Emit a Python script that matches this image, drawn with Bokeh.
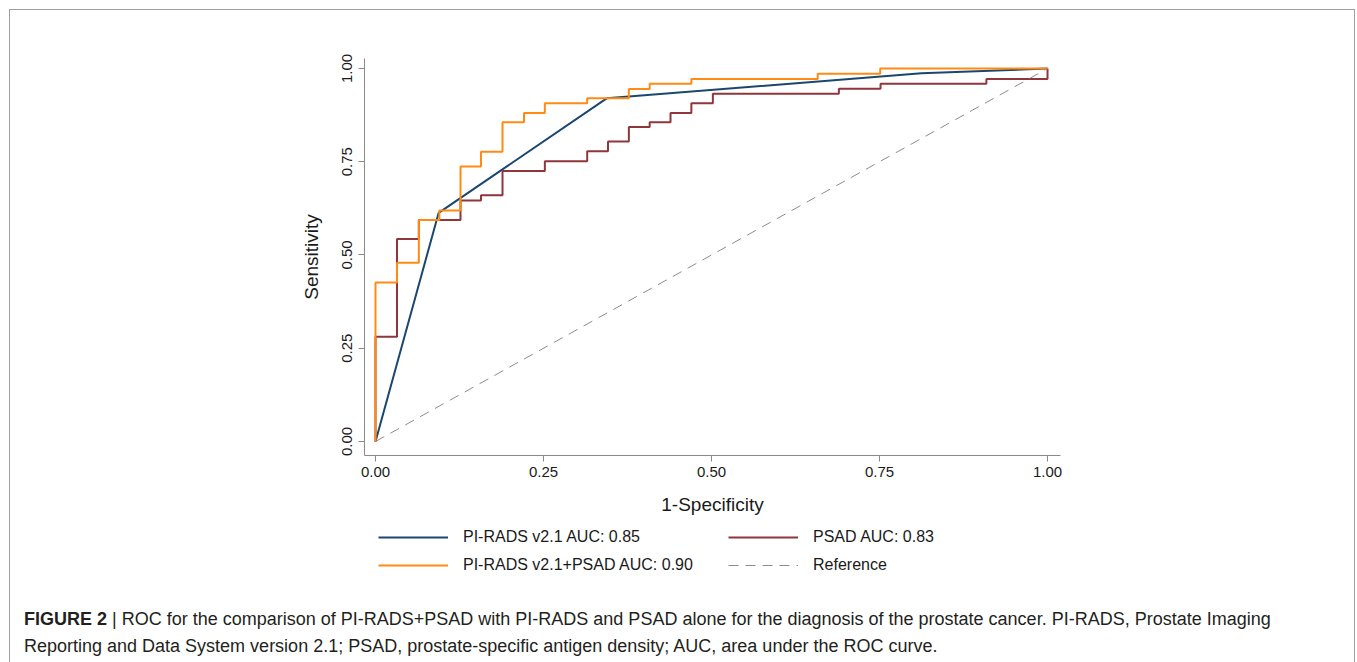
from bokeh.plotting import figure
from bokeh.models import Range1d, Legend, LegendItem, NumeralTickFormatter, FixedTicker, Div
from bokeh.layouts import column
from bokeh.embed import file_html
from bokeh.resources import INLINE

# ---------------- data ----------------
ticks = [0.0, 0.25, 0.50, 0.75, 1.0]

# PI-RADS v2.1 (ordinal score -> piecewise linear ROC)
pirads_fpr = [0.0, 0.094, 0.344, 0.8125, 1.0]
pirads_sens = [0.0, 0.613, 0.920, 0.987, 1.0]

# PSAD (empirical step ROC, operating points)
psad_fpr = [0.0, 0.0, 0.032, 0.0645, 0.1265, 0.157, 0.189, 0.252, 0.315, 0.346,
            0.377, 0.408, 0.439, 0.470, 0.502, 0.6895, 0.7515, 0.909, 1.0]
psad_sens = [0.0, 0.281, 0.543, 0.594, 0.646, 0.660, 0.725, 0.751, 0.778, 0.804,
             0.843, 0.856, 0.881, 0.907, 0.932, 0.946, 0.959, 0.972, 1.0]

# PI-RADS v2.1 + PSAD (empirical step ROC, operating points)
comb_fpr = [0.0, 0.0, 0.032, 0.0645, 0.095, 0.1265, 0.157, 0.189, 0.221, 0.252,
            0.315, 0.377, 0.408, 0.470, 0.658, 0.751, 1.0]
comb_sens = [0.0, 0.426, 0.479, 0.594, 0.619, 0.737, 0.777, 0.856, 0.881, 0.907,
             0.920, 0.945, 0.959, 0.972, 0.986, 1.0, 1.0]

ref_x = [0.0, 1.0]
ref_y = [0.0, 1.0]

legend_labels = ["PI-RADS v2.1 AUC: 0.85", "PSAD AUC: 0.83",
                 "PI-RADS v2.1+PSAD AUC: 0.90", "Reference"]

caption_bold = "FIGURE 2"
caption_line1 = ("| ROC for the comparison of PI-RADS+PSAD with PI-RADS and PSAD alone for the "
                 "diagnosis of the prostate cancer. PI-RADS, Prostate Imaging")
caption_line2 = ("Reporting and Data System version 2.1; PSAD, prostate-specific antigen density; "
                 "AUC, area under the ROC curve.")

# ---------------- styles ----------------
C_BLUE = "#1a476f"
C_RED = "#90353b"
C_ORANGE = "#ff8a14"
C_GRAY = "#8c8c8c"
FONT = "Liberation Sans"
TXT = "#1a1a1a"
CAP = "#231f20"

W = 1344
HA = 509
HB = 66
HC = 77

# ---------------- ROC plot ----------------
p = figure(width=W, height=HA, output_backend="svg", toolbar_location=None,
           x_range=Range1d(-0.01637, 1.0193), y_range=Range1d(-0.03753, 1.0268),
           min_border_left=354, min_border_right=294, min_border_top=48,
           min_border_bottom=64)

p.xgrid.visible = False
p.ygrid.visible = False
p.outline_line_color = None
p.background_fill_color = "white"
p.border_fill_color = "white"

for ax in (p.xaxis[0], p.yaxis[0]):
    ax.ticker = FixedTicker(ticks=ticks)
    ax.formatter = NumeralTickFormatter(format="0.00")
    ax.axis_line_color = "#8a8a8a"
    ax.major_tick_line_color = "#8a8a8a"
    ax.major_tick_out = 6
    ax.major_tick_in = 0
    ax.minor_tick_out = 0
    ax.minor_tick_in = 0
    ax.major_label_text_font = FONT
    ax.major_label_text_font_size = "15px"
    ax.major_label_text_color = TXT
    ax.axis_label_text_font = FONT
    ax.axis_label_text_font_size = "19px"
    ax.axis_label_text_font_style = "normal"
    ax.axis_label_text_color = TXT

p.xaxis.axis_label = "1-Specificity"
p.yaxis.axis_label = "Sensitivity"
p.yaxis.major_label_orientation = "vertical"
p.yaxis.major_label_standoff = 6
p.xaxis.axis_label_standoff = 14
p.yaxis.axis_label_standoff = 18

r_blue = p.line(pirads_fpr, pirads_sens, line_color=C_BLUE, line_width=2)
r_red = p.step(psad_fpr, psad_sens, mode="after", line_color=C_RED, line_width=2)
r_orange = p.step(comb_fpr, comb_sens, mode="after", line_color=C_ORANGE, line_width=2)
r_ref = p.line(ref_x, ref_y, line_color=C_GRAY, line_width=1, line_dash="10 7")

# ---------------- legend panel (frame aligned with the plot frame) ----------------
q = figure(width=W, height=HB, output_backend="svg", toolbar_location=None,
           x_range=Range1d(0, 1), y_range=Range1d(0, 1),
           x_axis_type=None, y_axis_type=None,
           min_border_left=354, min_border_right=294, min_border_top=0,
           min_border_bottom=0)
q.xgrid.visible = False
q.ygrid.visible = False
q.outline_line_color = None
q.background_fill_color = "white"
q.border_fill_color = "white"

nan = float("nan")
k_blue = q.line([nan], [nan], line_color=C_BLUE, line_width=2)
k_red = q.line([nan], [nan], line_color=C_RED, line_width=2)
k_orange = q.line([nan], [nan], line_color=C_ORANGE, line_width=2)
k_ref = q.line([nan], [nan], line_color=C_GRAY, line_width=1, line_dash="10 7")

def make_legend(items, x):
    lg = Legend(items=items, location=(x, 10), orientation="vertical",
                glyph_width=70, glyph_height=20, label_height=20, label_standoff=15,
                spacing=8, padding=0, margin=0, border_line_color=None,
                background_fill_alpha=0, label_text_font=FONT,
                label_text_font_size="16px", label_text_color=TXT)
    q.add_layout(lg, "center")

make_legend([LegendItem(label=legend_labels[0], renderers=[k_blue]),
             LegendItem(label=legend_labels[2], renderers=[k_orange])], 14)
make_legend([LegendItem(label=legend_labels[1], renderers=[k_red]),
             LegendItem(label=legend_labels[3], renderers=[k_ref])], 364)

# ---------------- caption ----------------
caption_html = (
    f'<div style="font-family: \'{FONT}\', Arial, sans-serif; font-size: 18px; '
    f'line-height: 27px; color: {CAP}; padding: 21px 0 0 14px; white-space: nowrap;">'
    f'<b>{caption_bold}</b> {caption_line1}<br>{caption_line2}</div>'
)
cap = Div(text=caption_html, width=W, height=HC, margin=0)

layout = column(p, q, cap, spacing=0, margin=(9, 0, 0, 9),
                styles={"border-top": "1px solid #a0a0a0",
                        "border-left": "1px solid #a0a0a0",
                        "border-right": "1px solid #a0a0a0"})

open("out.html", "w").write(file_html(layout, INLINE))
